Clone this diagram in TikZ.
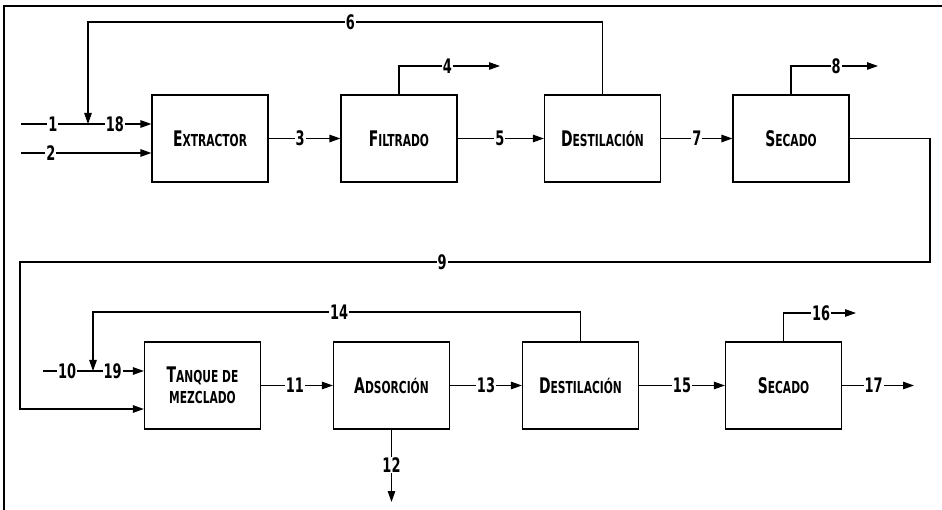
\documentclass[tikz,border=0pt]{standalone}
\usepackage{fontspec}
\setmainfont{DejaVu Sans Condensed}
\newfontfamily\narrowfont{DejaVu Sans Condensed}[FakeStretch=0.72]
\usetikzlibrary{arrows.meta,positioning}
\newcommand\capfirst[2]{{\fontsize{21.5}{21}\selectfont #1}{\fontsize{16.5}{21}\selectfont #2}}

\begin{document}
\begin{tikzpicture}[
  x=1pt,y=-1pt,
  unit/.style={draw, line width=1.2pt, minimum width=116pt, minimum height=87pt, align=center,
    font=\narrowfont\bfseries\fontsize{16.5}{21}\selectfont, inner sep=0pt},
  lbl/.style={fill=white, inner sep=1pt, font=\narrowfont\bfseries\fontsize{20}{20}\selectfont},
  arr/.style={-{Triangle[length=11pt,width=7.5pt]}, line width=1.2pt}
]
\useasboundingbox (0,0) rectangle (942,510);
\draw[line width=2pt] (4,510) -- (4,6) -- (942,6);
% primera linea
\node[unit] (ext) at (210,138.5) {\capfirst{E}{XTRACTOR}};
\node[unit] (filt) at (399,138.5) {\capfirst{F}{ILTRADO}};
\node[unit] (dest1) at (602.5,138.5) {\capfirst{D}{ESTILACIÓN}};
\node[unit] (sec1) at (791,138.5) {\capfirst{S}{ECADO}};
% segunda linea
\node[unit] (tanq) at (202.5,385.5) {\capfirst{T}{ANQUE DE}\\\capfirst{}{MEZCLADO}};
\node[unit] (ads) at (391.5,385.5) {\capfirst{A}{DSORCIÓN}};
\node[unit] (dest2) at (580.5,385.5) {\capfirst{D}{ESTILACIÓN}};
\node[unit] (sec2) at (783.5,385.5) {\capfirst{S}{ECADO}};
% puntos libres
\coordinate (in1) at (21,124);
\coordinate (in2) at (21,153);
\coordinate (j18) at (88,124);
\coordinate (r6) at (88,22);
\coordinate (out4) at (500,66);
\coordinate (out8) at (878,66);
\coordinate (r9a) at (930,262);
\coordinate (r9b) at (20,262);
\coordinate (r9c) at (20,409);
\coordinate (in10) at (43,371);
\coordinate (j19) at (93,371);
\coordinate (r14) at (93,312);
\coordinate (out12) at (391.5,502);
\coordinate (out16) at (856,313);
\coordinate (out17) at (914,385.5);
% corrientes
\draw[arr] (in1) -- node[lbl,pos=0.245]{1} node[lbl,pos=0.72]{18} (in1 -| ext.west);
\draw[arr] (in2) -- node[lbl,pos=0.23]{2} (in2 -| ext.west);
\draw[arr] (ext) -- node[lbl,pos=0.44]{3} (filt);
\draw[arr] (filt.north) |- node[lbl,pos=0.74]{4} (out4);
\draw[arr] (filt) -- node[lbl,pos=0.49]{5} (dest1);
\draw[arr] (dest1.north) -- (dest1.north |- r6) -- node[lbl,pos=0.49]{6} (r6) -- (j18);
\draw[arr] (dest1) -- node[lbl,pos=0.5]{7} (sec1);
\draw[arr] (sec1.north) |- node[lbl,pos=0.76]{8} (out8);
\draw[arr] (sec1.east) -| (r9a) -- node[lbl,pos=0.536]{9} (r9b) -- (r9c) -- (r9c -| tanq.west);
\draw[arr] (in10) -- node[lbl,pos=0.24]{10} node[lbl,pos=0.69]{19} (in10 -| tanq.west);
\draw[arr] (tanq) -- node[lbl,pos=0.47]{11} (ads);
\draw[arr] (ads.south) -- node[lbl,pos=0.49]{12} (out12);
\draw[arr] (ads) -- node[lbl,pos=0.5]{13} (dest2);
\draw[arr] (dest2.north) -- (dest2.north |- r14) -- node[lbl,pos=0.495]{14} (r14) -- (j19);
\draw[arr] (dest2) -- node[lbl,pos=0.5]{15} (sec2);
\draw[arr] (sec2.north) |- node[lbl,pos=0.76]{16} (out16);
\draw[arr] (sec2) -- node[lbl,pos=0.44]{17} (out17);
\end{tikzpicture}
\end{document}
